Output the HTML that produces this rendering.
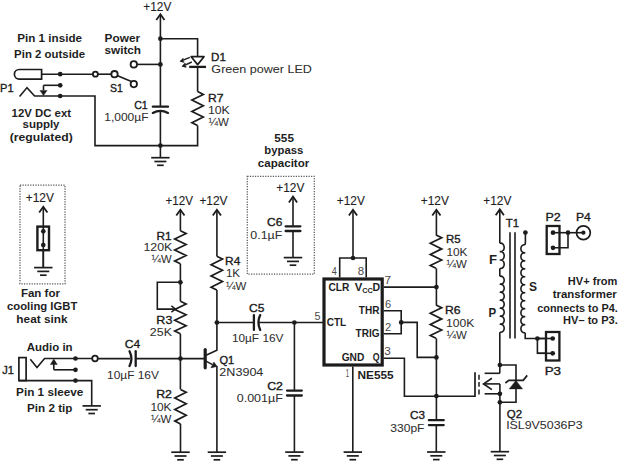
<!DOCTYPE html>
<html><head><meta charset="utf-8"><style>
html,body{margin:0;padding:0;background:#ffffff;}
body{width:620px;height:461px;overflow:hidden;}
svg{display:block;font-family:"Liberation Sans",sans-serif;font-kerning:none;}
</style></head><body>
<svg width="620" height="461" viewBox="0 0 620 461">
<rect width="620" height="461" fill="#ffffff"/>
<path d="M41.6,69.5 L19.2,69.5 A4.8,4.8 0 0 0 19.2,79.1 L41.6,79.1 Z" fill="none" stroke="#1c1c1c" stroke-width="1.7" stroke-linecap="butt" stroke-linejoin="miter"/>
<line x1="41.6" y1="74.2" x2="93" y2="74.2" stroke="#1c1c1c" stroke-width="1.6" stroke-linecap="butt"/>
<circle cx="60.2" cy="74.2" r="2.35" fill="#1c1c1c"/>
<circle cx="95.4" cy="74.2" r="2.5" fill="none" stroke="#1c1c1c" stroke-width="1.8"/>
<line x1="97.9" y1="74.2" x2="111.2" y2="74.2" stroke="#1c1c1c" stroke-width="1.6" stroke-linecap="butt"/>
<circle cx="114.5" cy="74.2" r="3.2" fill="none" stroke="#1c1c1c" stroke-width="1.8"/>
<line x1="117.6" y1="75.8" x2="131.4" y2="81.6" stroke="#1c1c1c" stroke-width="1.6" stroke-linecap="butt"/>
<circle cx="133.8" cy="84.1" r="3.2" fill="none" stroke="#1c1c1c" stroke-width="1.8"/>
<circle cx="133.8" cy="64.4" r="3.2" fill="none" stroke="#1c1c1c" stroke-width="1.8"/>
<line x1="137" y1="64.4" x2="160.4" y2="64.4" stroke="#1c1c1c" stroke-width="1.6" stroke-linecap="butt"/>
<circle cx="160.4" cy="64.4" r="2.35" fill="#1c1c1c"/>
<circle cx="60.2" cy="85.3" r="2.35" fill="#1c1c1c"/>
<line x1="43.5" y1="85.3" x2="60.2" y2="85.3" stroke="#1c1c1c" stroke-width="1.6" stroke-linecap="butt"/>
<line x1="43.5" y1="85.3" x2="43.5" y2="90.5" stroke="#1c1c1c" stroke-width="1.6" stroke-linecap="butt"/>
<polygon points="39.9,90.4 47.1,90.4 43.5,95.6" fill="#1c1c1c" stroke="#1c1c1c" stroke-width="0.4" stroke-linejoin="round"/>
<circle cx="60.2" cy="96" r="2.35" fill="#1c1c1c"/>
<polyline points="19.6,96.6 27,87.6 34.6,96 95,96 95,145.6 197.6,145.6 197.6,125.6" fill="none" stroke="#1c1c1c" stroke-width="1.6" stroke-linejoin="miter" stroke-linecap="butt"/>
<line x1="160.4" y1="14.8" x2="160.4" y2="106.7" stroke="#1c1c1c" stroke-width="1.6" stroke-linecap="butt"/>
<polyline points="156.3,20 160.4,14.2 164.5,20" fill="none" stroke="#1c1c1c" stroke-width="1.8" stroke-linejoin="miter" stroke-linecap="butt"/>
<line x1="160.4" y1="110.8" x2="160.4" y2="157.7" stroke="#1c1c1c" stroke-width="1.6" stroke-linecap="butt"/>
<circle cx="160.4" cy="38.7" r="2.35" fill="#1c1c1c"/>
<polyline points="160.4,38.7 197.6,38.7 197.6,56" fill="none" stroke="#1c1c1c" stroke-width="1.6" stroke-linejoin="miter" stroke-linecap="butt"/>
<line x1="152.8" y1="106.7" x2="168" y2="106.7" stroke="#1c1c1c" stroke-width="2.3" stroke-linecap="round"/>
<path d="M152.8,112.9 Q160.4,108.7 168,112.9" fill="none" stroke="#1c1c1c" stroke-width="2.3" stroke-linecap="round" stroke-linejoin="miter"/>
<circle cx="160.4" cy="145.6" r="2.35" fill="#1c1c1c"/>
<line x1="151.2" y1="157.7" x2="169.6" y2="157.7" stroke="#1c1c1c" stroke-width="1.7" stroke-linecap="butt"/>
<line x1="154.4" y1="161.5" x2="166.4" y2="161.5" stroke="#1c1c1c" stroke-width="1.7" stroke-linecap="butt"/>
<line x1="157.1" y1="165.3" x2="163.7" y2="165.3" stroke="#1c1c1c" stroke-width="1.7" stroke-linecap="butt"/>
<polygon points="191.2,56.7 204,56.7 197.6,64.6" fill="none" stroke="#1c1c1c" stroke-width="1.7" stroke-linejoin="round" stroke-linecap="butt"/>
<line x1="189.2" y1="66.9" x2="206" y2="66.9" stroke="#1c1c1c" stroke-width="2.3" stroke-linecap="butt"/>
<line x1="197.6" y1="66.9" x2="197.6" y2="91.6" stroke="#1c1c1c" stroke-width="1.6" stroke-linecap="butt"/>
<line x1="189.8" y1="57.4" x2="180.8" y2="61.2" stroke="#1c1c1c" stroke-width="1.4" stroke-linecap="butt"/>
<polyline points="183.4,58.4 180.8,61.2 184.2,62.2" fill="none" stroke="#1c1c1c" stroke-width="1.3" stroke-linejoin="miter" stroke-linecap="butt"/>
<line x1="191.8" y1="62" x2="182.8" y2="66.1" stroke="#1c1c1c" stroke-width="1.4" stroke-linecap="butt"/>
<polyline points="185.4,63.2 182.8,66.1 186.3,67" fill="none" stroke="#1c1c1c" stroke-width="1.3" stroke-linejoin="miter" stroke-linecap="butt"/>
<polyline points="197.6,91.6 203.3,94.43 191.9,100.1 203.3,105.77 191.9,111.43 203.3,117.1 191.9,122.77 197.6,125.6" fill="none" stroke="#1c1c1c" stroke-width="1.7" stroke-linejoin="miter" stroke-linecap="butt"/>
<text x="143.32" y="10.6" font-size="12.3" font-weight="normal" fill="#1e1e1e" textLength="28.03" lengthAdjust="spacingAndGlyphs" stroke="#1e1e1e" stroke-width="0.12">+12V</text>
<text x="17.22" y="42.3" font-size="11.4" font-weight="bold" fill="#1e1e1e" textLength="64.78" lengthAdjust="spacingAndGlyphs">Pin 1 inside</text>
<text x="14.14" y="57.6" font-size="11.4" font-weight="bold" fill="#1e1e1e" textLength="71.05" lengthAdjust="spacingAndGlyphs">Pin 2 outside</text>
<text x="104.61" y="41.9" font-size="11.4" font-weight="bold" fill="#1e1e1e" textLength="35.47" lengthAdjust="spacingAndGlyphs">Power</text>
<text x="104.49" y="54.1" font-size="11.4" font-weight="bold" fill="#1e1e1e" textLength="36.54" lengthAdjust="spacingAndGlyphs">switch</text>
<text x="0.09" y="91.6" font-size="11.6" font-weight="normal" fill="#1a1a1a" textLength="13.55" lengthAdjust="spacingAndGlyphs" stroke="#1a1a1a" stroke-width="0.36">P1</text>
<text x="109.92" y="91.6" font-size="11.6" font-weight="normal" fill="#1a1a1a" textLength="12.89" lengthAdjust="spacingAndGlyphs" stroke="#1a1a1a" stroke-width="0.36">S1</text>
<text x="211.05" y="60.8" font-size="11.6" font-weight="normal" fill="#1a1a1a" textLength="14.82" lengthAdjust="spacingAndGlyphs" stroke="#1a1a1a" stroke-width="0.36">D1</text>
<text x="211.37" y="73.3" font-size="11.6" font-weight="normal" fill="#2e2e2e" textLength="100.53" lengthAdjust="spacingAndGlyphs" stroke="#2e2e2e" stroke-width="0.05">Green power LED</text>
<text x="207.91" y="102" font-size="11.6" font-weight="normal" fill="#1a1a1a" textLength="15.5" lengthAdjust="spacingAndGlyphs" stroke="#1a1a1a" stroke-width="0.36">R7</text>
<text x="207.96" y="114.2" font-size="11.6" font-weight="normal" fill="#2e2e2e" textLength="21.87" lengthAdjust="spacingAndGlyphs" stroke="#2e2e2e" stroke-width="0.05">10K</text>
<text x="208.59" y="125.9" font-size="11.6" font-weight="normal" fill="#2e2e2e" textLength="20.35" lengthAdjust="spacingAndGlyphs" stroke="#2e2e2e" stroke-width="0.05">¼W</text>
<text x="134.16" y="108.5" font-size="11.6" font-weight="normal" fill="#1a1a1a" textLength="13.56" lengthAdjust="spacingAndGlyphs" stroke="#1a1a1a" stroke-width="0.36">C1</text>
<text x="104.29" y="120.6" font-size="11.6" font-weight="normal" fill="#2e2e2e" textLength="44.19" lengthAdjust="spacingAndGlyphs" stroke="#2e2e2e" stroke-width="0.05">1,000µF</text>
<text x="11.58" y="116.5" font-size="11.4" font-weight="bold" fill="#1e1e1e" textLength="59.46" lengthAdjust="spacingAndGlyphs">12V DC ext</text>
<text x="22.5" y="127.5" font-size="11.4" font-weight="bold" fill="#1e1e1e" textLength="36.96" lengthAdjust="spacingAndGlyphs">supply</text>
<text x="9.79" y="140.8" font-size="11.4" font-weight="bold" fill="#1e1e1e" textLength="62.91" lengthAdjust="spacingAndGlyphs">(regulated)</text>
<text x="274.34" y="141.5" font-size="11.4" font-weight="bold" fill="#1e1e1e" textLength="19.59" lengthAdjust="spacingAndGlyphs">555</text>
<text x="264.36" y="154" font-size="11.4" font-weight="bold" fill="#1e1e1e" textLength="38.91" lengthAdjust="spacingAndGlyphs">bypass</text>
<text x="257.85" y="166.5" font-size="11.4" font-weight="bold" fill="#1e1e1e" textLength="51.43" lengthAdjust="spacingAndGlyphs">capacitor</text>
<rect x="247.3" y="176.3" width="67" height="97.9" fill="none" stroke="#5a5a5a" stroke-width="1.25" stroke-dasharray="1.25,1.3"/>
<text x="276.32" y="192" font-size="12.3" font-weight="normal" fill="#1e1e1e" textLength="28.03" lengthAdjust="spacingAndGlyphs" stroke="#1e1e1e" stroke-width="0.12">+12V</text>
<line x1="293" y1="197.2" x2="293" y2="226.3" stroke="#1c1c1c" stroke-width="1.6" stroke-linecap="butt"/>
<polyline points="288.9,202.4 293,196.6 297.1,202.4" fill="none" stroke="#1c1c1c" stroke-width="1.8" stroke-linejoin="miter" stroke-linecap="butt"/>
<line x1="285.6" y1="226.3" x2="300.4" y2="226.3" stroke="#1c1c1c" stroke-width="2.3" stroke-linecap="round"/>
<line x1="285.6" y1="231" x2="300.4" y2="231" stroke="#1c1c1c" stroke-width="2.3" stroke-linecap="round"/>
<line x1="293" y1="231" x2="293" y2="257.6" stroke="#1c1c1c" stroke-width="1.6" stroke-linecap="butt"/>
<line x1="283.8" y1="257.6" x2="302.2" y2="257.6" stroke="#1c1c1c" stroke-width="1.7" stroke-linecap="butt"/>
<line x1="287" y1="261.4" x2="299" y2="261.4" stroke="#1c1c1c" stroke-width="1.7" stroke-linecap="butt"/>
<line x1="289.7" y1="265.2" x2="296.3" y2="265.2" stroke="#1c1c1c" stroke-width="1.7" stroke-linecap="butt"/>
<text x="267.1" y="226.4" font-size="11.6" font-weight="normal" fill="#1a1a1a" textLength="15.23" lengthAdjust="spacingAndGlyphs" stroke="#1a1a1a" stroke-width="0.36">C6</text>
<text x="250.32" y="239" font-size="11.6" font-weight="normal" fill="#2e2e2e" textLength="31.98" lengthAdjust="spacingAndGlyphs" stroke="#2e2e2e" stroke-width="0.05">0.1µF</text>
<rect x="20" y="185" width="45" height="98.8" fill="none" stroke="#5a5a5a" stroke-width="1.25" stroke-dasharray="1.25,1.3"/>
<text x="25.72" y="201.6" font-size="12.3" font-weight="normal" fill="#1e1e1e" textLength="28.13" lengthAdjust="spacingAndGlyphs" stroke="#1e1e1e" stroke-width="0.12">+12V</text>
<line x1="43.3" y1="207.4" x2="43.3" y2="267.6" stroke="#1c1c1c" stroke-width="1.6" stroke-linecap="butt"/>
<polyline points="39.2,212.6 43.3,206.8 47.4,212.6" fill="none" stroke="#1c1c1c" stroke-width="1.8" stroke-linejoin="miter" stroke-linecap="butt"/>
<rect x="37.4" y="226.6" width="11.6" height="23.6" fill="#ffffff" stroke="#1c1c1c" stroke-width="2.4"/>
<line x1="43.3" y1="226.6" x2="43.3" y2="267.6" stroke="#1c1c1c" stroke-width="1.6" stroke-linecap="butt"/>
<circle cx="43.3" cy="231.3" r="2.35" fill="#1c1c1c"/>
<circle cx="43.3" cy="245" r="2.35" fill="#1c1c1c"/>
<line x1="34.1" y1="267.6" x2="52.5" y2="267.6" stroke="#1c1c1c" stroke-width="1.7" stroke-linecap="butt"/>
<line x1="37.3" y1="271.4" x2="49.3" y2="271.4" stroke="#1c1c1c" stroke-width="1.7" stroke-linecap="butt"/>
<line x1="40" y1="275.2" x2="46.6" y2="275.2" stroke="#1c1c1c" stroke-width="1.7" stroke-linecap="butt"/>
<text x="20.93" y="297.4" font-size="11.4" font-weight="bold" fill="#1e1e1e" textLength="39.05" lengthAdjust="spacingAndGlyphs">Fan for</text>
<text x="7.06" y="310.3" font-size="11.4" font-weight="bold" fill="#1e1e1e" textLength="70.26" lengthAdjust="spacingAndGlyphs">cooling IGBT</text>
<text x="16.38" y="322.5" font-size="11.4" font-weight="bold" fill="#1e1e1e" textLength="51.11" lengthAdjust="spacingAndGlyphs">heat sink</text>
<text x="26.81" y="351.2" font-size="11.4" font-weight="bold" fill="#1e1e1e" textLength="45.8" lengthAdjust="spacingAndGlyphs">Audio in</text>
<rect x="18.9" y="357.6" width="7.2" height="23" fill="none" stroke="#1c1c1c" stroke-width="1.7"/>
<polyline points="30.3,359.2 37,367.6 44.6,358.5 92.2,358.5" fill="none" stroke="#1c1c1c" stroke-width="1.6" stroke-linejoin="miter" stroke-linecap="butt"/>
<circle cx="75.5" cy="358.5" r="2.35" fill="#1c1c1c"/>
<circle cx="95" cy="358.5" r="2.8" fill="none" stroke="#1c1c1c" stroke-width="1.8"/>
<line x1="53.8" y1="369.8" x2="53.8" y2="364" stroke="#1c1c1c" stroke-width="1.6" stroke-linecap="butt"/>
<polygon points="50.3,364.6 57.3,364.6 53.8,358.9" fill="#1c1c1c" stroke="#1c1c1c" stroke-width="0.4" stroke-linejoin="round"/>
<line x1="53.8" y1="369.8" x2="75.5" y2="369.8" stroke="#1c1c1c" stroke-width="1.6" stroke-linecap="butt"/>
<circle cx="75.5" cy="369.8" r="2.35" fill="#1c1c1c"/>
<polyline points="18.9,380.6 91.7,380.6 91.7,405.9" fill="none" stroke="#1c1c1c" stroke-width="1.6" stroke-linejoin="miter" stroke-linecap="butt"/>
<circle cx="75.5" cy="380.6" r="2.35" fill="#1c1c1c"/>
<line x1="82.5" y1="405.9" x2="100.9" y2="405.9" stroke="#1c1c1c" stroke-width="1.7" stroke-linecap="butt"/>
<line x1="85.7" y1="409.7" x2="97.7" y2="409.7" stroke="#1c1c1c" stroke-width="1.7" stroke-linecap="butt"/>
<line x1="88.4" y1="413.5" x2="95" y2="413.5" stroke="#1c1c1c" stroke-width="1.7" stroke-linecap="butt"/>
<text x="2.33" y="374.1" font-size="11.6" font-weight="normal" fill="#1a1a1a" textLength="11.71" lengthAdjust="spacingAndGlyphs" stroke="#1a1a1a" stroke-width="0.36">J1</text>
<text x="16.12" y="396.2" font-size="11.4" font-weight="bold" fill="#1e1e1e" textLength="67.19" lengthAdjust="spacingAndGlyphs">Pin 1 sleeve</text>
<text x="27.12" y="411.8" font-size="11.4" font-weight="bold" fill="#1e1e1e" textLength="45.26" lengthAdjust="spacingAndGlyphs">Pin 2 tip</text>
<line x1="97.8" y1="358.6" x2="130" y2="358.6" stroke="#1c1c1c" stroke-width="1.6" stroke-linecap="butt"/>
<path d="M129.5,351.2 Q133.3,358.6 129.5,366" fill="none" stroke="#1c1c1c" stroke-width="2.3" stroke-linecap="round" stroke-linejoin="miter"/>
<line x1="135.7" y1="351.2" x2="135.7" y2="366" stroke="#1c1c1c" stroke-width="2.3" stroke-linecap="round"/>
<line x1="135.7" y1="358.6" x2="205" y2="358.6" stroke="#1c1c1c" stroke-width="1.6" stroke-linecap="butt"/>
<circle cx="180.5" cy="358.6" r="2.35" fill="#1c1c1c"/>
<text x="124.89" y="348.2" font-size="11.6" font-weight="normal" fill="#1a1a1a" textLength="15.36" lengthAdjust="spacingAndGlyphs" stroke="#1a1a1a" stroke-width="0.36">C4</text>
<text x="107.09" y="378.5" font-size="11.6" font-weight="normal" fill="#2e2e2e" textLength="51.86" lengthAdjust="spacingAndGlyphs" stroke="#2e2e2e" stroke-width="0.05">10µF 16V</text>
<text x="165.53" y="205.1" font-size="12.3" font-weight="normal" fill="#1e1e1e" textLength="27.52" lengthAdjust="spacingAndGlyphs" stroke="#1e1e1e" stroke-width="0.12">+12V</text>
<line x1="180.4" y1="210.3" x2="180.4" y2="230.8" stroke="#1c1c1c" stroke-width="1.6" stroke-linecap="butt"/>
<polyline points="176.3,215.5 180.4,209.7 184.5,215.5" fill="none" stroke="#1c1c1c" stroke-width="1.8" stroke-linejoin="miter" stroke-linecap="butt"/>
<polyline points="180.4,230.8 186.1,233.55 174.7,239.05 186.1,244.55 174.7,250.05 186.1,255.55 174.7,261.05 180.4,263.8" fill="none" stroke="#1c1c1c" stroke-width="1.7" stroke-linejoin="miter" stroke-linecap="butt"/>
<line x1="180.4" y1="263.8" x2="180.4" y2="301.3" stroke="#1c1c1c" stroke-width="1.6" stroke-linecap="butt"/>
<circle cx="180.4" cy="282.3" r="2.35" fill="#1c1c1c"/>
<polyline points="180.4,282.3 157.3,282.3 157.3,309.1 175,309.1" fill="none" stroke="#1c1c1c" stroke-width="1.6" stroke-linejoin="miter" stroke-linecap="butt"/>
<polyline points="171.4,305.9 175.3,309 171.4,312.1" fill="none" stroke="#1c1c1c" stroke-width="1.5" stroke-linejoin="miter" stroke-linecap="butt"/>
<polyline points="180.4,301.3 186.1,304.01 174.7,309.43 186.1,314.84 174.7,320.26 186.1,325.68 174.7,331.09 180.4,333.8" fill="none" stroke="#1c1c1c" stroke-width="1.7" stroke-linejoin="miter" stroke-linecap="butt"/>
<line x1="180.4" y1="333.8" x2="180.4" y2="389.4" stroke="#1c1c1c" stroke-width="1.6" stroke-linecap="butt"/>
<polyline points="180.5,389.4 186.2,392.28 174.8,398.05 186.2,403.82 174.8,409.58 186.2,415.35 174.8,421.12 180.5,424" fill="none" stroke="#1c1c1c" stroke-width="1.7" stroke-linejoin="miter" stroke-linecap="butt"/>
<line x1="180.5" y1="424" x2="180.5" y2="452.2" stroke="#1c1c1c" stroke-width="1.6" stroke-linecap="butt"/>
<line x1="171.3" y1="452.2" x2="189.7" y2="452.2" stroke="#1c1c1c" stroke-width="1.7" stroke-linecap="butt"/>
<line x1="174.5" y1="456" x2="186.5" y2="456" stroke="#1c1c1c" stroke-width="1.7" stroke-linecap="butt"/>
<line x1="177.2" y1="459.8" x2="183.8" y2="459.8" stroke="#1c1c1c" stroke-width="1.7" stroke-linecap="butt"/>
<text x="156.43" y="239.8" font-size="11.6" font-weight="normal" fill="#1a1a1a" textLength="15.04" lengthAdjust="spacingAndGlyphs" stroke="#1a1a1a" stroke-width="0.36">R1</text>
<text x="143.46" y="251.4" font-size="11.6" font-weight="normal" fill="#2e2e2e" textLength="28.88" lengthAdjust="spacingAndGlyphs" stroke="#2e2e2e" stroke-width="0.05">120K</text>
<text x="151.59" y="263.1" font-size="11.6" font-weight="normal" fill="#2e2e2e" textLength="20.05" lengthAdjust="spacingAndGlyphs" stroke="#2e2e2e" stroke-width="0.05">¼W</text>
<text x="156.37" y="323.8" font-size="11.6" font-weight="normal" fill="#1a1a1a" textLength="15.97" lengthAdjust="spacingAndGlyphs" stroke="#1a1a1a" stroke-width="0.36">R3</text>
<text x="149.88" y="336" font-size="11.6" font-weight="normal" fill="#2e2e2e" textLength="22.06" lengthAdjust="spacingAndGlyphs" stroke="#2e2e2e" stroke-width="0.05">25K</text>
<text x="156.18" y="397.9" font-size="11.6" font-weight="normal" fill="#1a1a1a" textLength="15.84" lengthAdjust="spacingAndGlyphs" stroke="#1a1a1a" stroke-width="0.36">R2</text>
<text x="150.4" y="410.6" font-size="11.6" font-weight="normal" fill="#2e2e2e" textLength="21.14" lengthAdjust="spacingAndGlyphs" stroke="#2e2e2e" stroke-width="0.05">10K</text>
<text x="150.99" y="423.2" font-size="11.6" font-weight="normal" fill="#2e2e2e" textLength="20.45" lengthAdjust="spacingAndGlyphs" stroke="#2e2e2e" stroke-width="0.05">¼W</text>
<text x="199.42" y="205.1" font-size="12.3" font-weight="normal" fill="#1e1e1e" textLength="28.13" lengthAdjust="spacingAndGlyphs" stroke="#1e1e1e" stroke-width="0.12">+12V</text>
<line x1="216.9" y1="210.3" x2="216.9" y2="256.3" stroke="#1c1c1c" stroke-width="1.6" stroke-linecap="butt"/>
<polyline points="212.8,215.5 216.9,209.7 221,215.5" fill="none" stroke="#1c1c1c" stroke-width="1.8" stroke-linejoin="miter" stroke-linecap="butt"/>
<polyline points="216.8,256.3 222.5,259.11 211.1,264.73 222.5,270.34 211.1,275.96 222.5,281.58 211.1,287.19 216.8,290" fill="none" stroke="#1c1c1c" stroke-width="1.7" stroke-linejoin="miter" stroke-linecap="butt"/>
<polyline points="216.9,290 216.9,350.2 205.5,355.4" fill="none" stroke="#1c1c1c" stroke-width="1.6" stroke-linejoin="miter" stroke-linecap="butt"/>
<circle cx="216.9" cy="322.5" r="2.35" fill="#1c1c1c"/>
<line x1="205.2" y1="349.6" x2="205.2" y2="367.8" stroke="#1c1c1c" stroke-width="3.2" stroke-linecap="round"/>
<line x1="205.5" y1="360.9" x2="212.5" y2="364.6" stroke="#1c1c1c" stroke-width="1.6" stroke-linecap="butt"/>
<polygon points="210.8,367.9 213.9,361.9 217.2,366.4" fill="#1c1c1c" stroke="#1c1c1c" stroke-width="0.4" stroke-linejoin="round"/>
<line x1="216.9" y1="366" x2="216.9" y2="452.2" stroke="#1c1c1c" stroke-width="1.6" stroke-linecap="butt"/>
<line x1="207.7" y1="452.2" x2="226.1" y2="452.2" stroke="#1c1c1c" stroke-width="1.7" stroke-linecap="butt"/>
<line x1="210.9" y1="456" x2="222.9" y2="456" stroke="#1c1c1c" stroke-width="1.7" stroke-linecap="butt"/>
<line x1="213.6" y1="459.8" x2="220.2" y2="459.8" stroke="#1c1c1c" stroke-width="1.7" stroke-linecap="butt"/>
<text x="225.12" y="264.8" font-size="11.6" font-weight="normal" fill="#1a1a1a" textLength="15.23" lengthAdjust="spacingAndGlyphs" stroke="#1a1a1a" stroke-width="0.36">R4</text>
<text x="225.91" y="277" font-size="11.6" font-weight="normal" fill="#2e2e2e" textLength="14.22" lengthAdjust="spacingAndGlyphs" stroke="#2e2e2e" stroke-width="0.05">1K</text>
<text x="225.99" y="289.6" font-size="11.6" font-weight="normal" fill="#2e2e2e" textLength="20.35" lengthAdjust="spacingAndGlyphs" stroke="#2e2e2e" stroke-width="0.05">¼W</text>
<text x="219.48" y="363.5" font-size="11.6" font-weight="normal" fill="#1a1a1a" textLength="14.76" lengthAdjust="spacingAndGlyphs" stroke="#1a1a1a" stroke-width="0.36">Q1</text>
<text x="219.37" y="375.9" font-size="11.6" font-weight="normal" fill="#2e2e2e" textLength="44" lengthAdjust="spacingAndGlyphs" stroke="#2e2e2e" stroke-width="0.05">2N3904</text>
<line x1="216.9" y1="322.5" x2="253.6" y2="322.5" stroke="#1c1c1c" stroke-width="1.6" stroke-linecap="butt"/>
<path d="M260.2,315.1 Q256.6,322.5 260.2,329.9" fill="none" stroke="#1c1c1c" stroke-width="2.3" stroke-linecap="round" stroke-linejoin="miter"/>
<line x1="253.9" y1="315.1" x2="253.9" y2="329.9" stroke="#1c1c1c" stroke-width="2.3" stroke-linecap="round"/>
<line x1="258.6" y1="322.5" x2="324" y2="322.5" stroke="#1c1c1c" stroke-width="1.6" stroke-linecap="butt"/>
<circle cx="294.4" cy="322.5" r="2.35" fill="#1c1c1c"/>
<line x1="294.4" y1="322.5" x2="294.4" y2="390.6" stroke="#1c1c1c" stroke-width="1.6" stroke-linecap="butt"/>
<line x1="287" y1="390.6" x2="301.8" y2="390.6" stroke="#1c1c1c" stroke-width="2.3" stroke-linecap="round"/>
<line x1="287" y1="395.5" x2="301.8" y2="395.5" stroke="#1c1c1c" stroke-width="2.3" stroke-linecap="round"/>
<line x1="294.4" y1="395.5" x2="294.4" y2="452.1" stroke="#1c1c1c" stroke-width="1.6" stroke-linecap="butt"/>
<line x1="285.2" y1="452.1" x2="303.6" y2="452.1" stroke="#1c1c1c" stroke-width="1.7" stroke-linecap="butt"/>
<line x1="288.4" y1="455.9" x2="300.4" y2="455.9" stroke="#1c1c1c" stroke-width="1.7" stroke-linecap="butt"/>
<line x1="291.1" y1="459.7" x2="297.7" y2="459.7" stroke="#1c1c1c" stroke-width="1.7" stroke-linecap="butt"/>
<text x="248.99" y="311.5" font-size="11.6" font-weight="normal" fill="#1a1a1a" textLength="15.31" lengthAdjust="spacingAndGlyphs" stroke="#1a1a1a" stroke-width="0.36">C5</text>
<text x="231.9" y="342" font-size="11.6" font-weight="normal" fill="#2e2e2e" textLength="51.55" lengthAdjust="spacingAndGlyphs" stroke="#2e2e2e" stroke-width="0.05">10µF 16V</text>
<text x="267.17" y="389.7" font-size="11.6" font-weight="normal" fill="#1a1a1a" textLength="15.74" lengthAdjust="spacingAndGlyphs" stroke="#1a1a1a" stroke-width="0.36">C2</text>
<text x="236.81" y="401.8" font-size="11.6" font-weight="normal" fill="#2e2e2e" textLength="45.99" lengthAdjust="spacingAndGlyphs" stroke="#2e2e2e" stroke-width="0.05">0.001µF</text>
<rect x="324" y="279" width="58.2" height="86" fill="none" stroke="#1c1c1c" stroke-width="3.2"/>
<text x="336.82" y="204.9" font-size="12.3" font-weight="normal" fill="#1e1e1e" textLength="28.03" lengthAdjust="spacingAndGlyphs" stroke="#1e1e1e" stroke-width="0.12">+12V</text>
<line x1="353" y1="210.3" x2="353" y2="258" stroke="#1c1c1c" stroke-width="1.6" stroke-linecap="butt"/>
<polyline points="348.9,215.5 353,209.7 357.1,215.5" fill="none" stroke="#1c1c1c" stroke-width="1.8" stroke-linejoin="miter" stroke-linecap="butt"/>
<circle cx="353" cy="258" r="2.35" fill="#1c1c1c"/>
<polyline points="339.7,277.5 339.7,258 366.2,258 366.2,277.5" fill="none" stroke="#1c1c1c" stroke-width="1.6" stroke-linejoin="miter" stroke-linecap="butt"/>
<text x="331.79" y="274.8" font-size="10.2" font-weight="normal" fill="#4a4a4a" textLength="5.08" lengthAdjust="spacingAndGlyphs">4</text>
<text x="357.7" y="274.8" font-size="10.2" font-weight="normal" fill="#4a4a4a" textLength="6.4" lengthAdjust="spacingAndGlyphs">8</text>
<text x="328.38" y="290.6" font-size="10.6" font-weight="bold" fill="#1e1e1e" textLength="20.93" lengthAdjust="spacingAndGlyphs">CLR</text>
<text x="354.72" y="290.6" font-size="10.6" font-weight="bold" fill="#1e1e1e" textLength="7.55" lengthAdjust="spacingAndGlyphs">V</text>
<text x="362.3" y="292.6" font-size="7.6" font-weight="bold" fill="#1e1e1e" textLength="10.6" lengthAdjust="spacingAndGlyphs">CC</text>
<text x="372.49" y="290.6" font-size="10.6" font-weight="bold" fill="#1e1e1e" textLength="7.65" lengthAdjust="spacingAndGlyphs">D</text>
<text x="384.59" y="284.4" font-size="10.2" font-weight="normal" fill="#4a4a4a" textLength="6.61" lengthAdjust="spacingAndGlyphs">7</text>
<line x1="383.7" y1="287.1" x2="436.4" y2="287.1" stroke="#1c1c1c" stroke-width="1.6" stroke-linecap="butt"/>
<text x="358.79" y="313.7" font-size="10.6" font-weight="bold" fill="#1e1e1e" textLength="20.62" lengthAdjust="spacingAndGlyphs">THR</text>
<text x="385.14" y="307.5" font-size="10.2" font-weight="normal" fill="#4a4a4a" textLength="6.15" lengthAdjust="spacingAndGlyphs">6</text>
<polyline points="383.7,310.7 401.2,310.7 401.2,333.7 383.7,333.7" fill="none" stroke="#1c1c1c" stroke-width="1.6" stroke-linejoin="miter" stroke-linecap="butt"/>
<circle cx="401.2" cy="322.4" r="2.35" fill="#1c1c1c"/>
<polyline points="401.2,322.4 417.2,322.4 417.2,357.4 436.4,357.4" fill="none" stroke="#1c1c1c" stroke-width="1.6" stroke-linejoin="miter" stroke-linecap="butt"/>
<text x="385.14" y="331.3" font-size="10.2" font-weight="normal" fill="#4a4a4a" textLength="6.23" lengthAdjust="spacingAndGlyphs">2</text>
<text x="355.59" y="337.3" font-size="10.6" font-weight="bold" fill="#1e1e1e" textLength="23.93" lengthAdjust="spacingAndGlyphs">TRIG</text>
<text x="326.79" y="326.4" font-size="10.6" font-weight="bold" fill="#1e1e1e" textLength="19.42" lengthAdjust="spacingAndGlyphs">CTL</text>
<text x="314.57" y="320.2" font-size="10.2" font-weight="normal" fill="#4a4a4a" textLength="5.98" lengthAdjust="spacingAndGlyphs">5</text>
<text x="341.68" y="361.1" font-size="10.6" font-weight="bold" fill="#1e1e1e" textLength="22.65" lengthAdjust="spacingAndGlyphs">GND</text>
<text x="372.74" y="361.1" font-size="10.6" font-weight="bold" fill="#1e1e1e" textLength="6.83" lengthAdjust="spacingAndGlyphs">Q</text>
<text x="384.35" y="354.8" font-size="10.2" font-weight="normal" fill="#4a4a4a" textLength="6.57" lengthAdjust="spacingAndGlyphs">3</text>
<polyline points="383.7,358.2 404.4,358.2 404.4,396.2 475,396.2" fill="none" stroke="#1c1c1c" stroke-width="1.6" stroke-linejoin="miter" stroke-linecap="butt"/>
<text x="345.64" y="377.2" font-size="10.2" font-weight="normal" fill="#4a4a4a" textLength="3.35" lengthAdjust="spacingAndGlyphs">1</text>
<line x1="352.8" y1="366.5" x2="352.8" y2="452.1" stroke="#1c1c1c" stroke-width="1.6" stroke-linecap="butt"/>
<line x1="343.6" y1="452.1" x2="362" y2="452.1" stroke="#1c1c1c" stroke-width="1.7" stroke-linecap="butt"/>
<line x1="346.8" y1="455.9" x2="358.8" y2="455.9" stroke="#1c1c1c" stroke-width="1.7" stroke-linecap="butt"/>
<line x1="349.5" y1="459.7" x2="356.1" y2="459.7" stroke="#1c1c1c" stroke-width="1.7" stroke-linecap="butt"/>
<text x="357.51" y="378.8" font-size="11.2" font-weight="bold" fill="#1e1e1e" textLength="36.22" lengthAdjust="spacingAndGlyphs">NE555</text>
<text x="420.72" y="204.9" font-size="12.3" font-weight="normal" fill="#1e1e1e" textLength="28.13" lengthAdjust="spacingAndGlyphs" stroke="#1e1e1e" stroke-width="0.12">+12V</text>
<line x1="436.4" y1="210.3" x2="436.4" y2="235" stroke="#1c1c1c" stroke-width="1.6" stroke-linecap="butt"/>
<polyline points="432.3,215.5 436.4,209.7 440.5,215.5" fill="none" stroke="#1c1c1c" stroke-width="1.8" stroke-linejoin="miter" stroke-linecap="butt"/>
<polyline points="436,235 441.7,237.78 430.3,243.33 441.7,248.88 430.3,254.43 441.7,259.98 430.3,265.53 436,268.3" fill="none" stroke="#1c1c1c" stroke-width="1.7" stroke-linejoin="miter" stroke-linecap="butt"/>
<line x1="436.4" y1="268.3" x2="436.4" y2="305" stroke="#1c1c1c" stroke-width="1.6" stroke-linecap="butt"/>
<circle cx="436.4" cy="287.1" r="2.35" fill="#1c1c1c"/>
<polyline points="436,305 441.7,307.77 430.3,313.32 441.7,318.88 430.3,324.43 441.7,329.98 430.3,335.53 436,338.3" fill="none" stroke="#1c1c1c" stroke-width="1.7" stroke-linejoin="miter" stroke-linecap="butt"/>
<line x1="436.4" y1="338.3" x2="436.4" y2="420.2" stroke="#1c1c1c" stroke-width="1.6" stroke-linecap="butt"/>
<circle cx="436.4" cy="357.4" r="2.35" fill="#1c1c1c"/>
<circle cx="436.4" cy="396.1" r="2.35" fill="#1c1c1c"/>
<line x1="428.9" y1="420.2" x2="443.7" y2="420.2" stroke="#1c1c1c" stroke-width="2.3" stroke-linecap="round"/>
<line x1="428.9" y1="425.1" x2="443.7" y2="425.1" stroke="#1c1c1c" stroke-width="2.3" stroke-linecap="round"/>
<line x1="436.3" y1="425.1" x2="436.3" y2="452" stroke="#1c1c1c" stroke-width="1.6" stroke-linecap="butt"/>
<line x1="427.1" y1="452" x2="445.5" y2="452" stroke="#1c1c1c" stroke-width="1.7" stroke-linecap="butt"/>
<line x1="430.3" y1="455.8" x2="442.3" y2="455.8" stroke="#1c1c1c" stroke-width="1.7" stroke-linecap="butt"/>
<line x1="433" y1="459.6" x2="439.6" y2="459.6" stroke="#1c1c1c" stroke-width="1.7" stroke-linecap="butt"/>
<text x="445.96" y="243.4" font-size="11.6" font-weight="normal" fill="#1a1a1a" textLength="14.62" lengthAdjust="spacingAndGlyphs" stroke="#1a1a1a" stroke-width="0.36">R5</text>
<text x="446.4" y="255.7" font-size="11.6" font-weight="normal" fill="#2e2e2e" textLength="21.03" lengthAdjust="spacingAndGlyphs" stroke="#2e2e2e" stroke-width="0.05">10K</text>
<text x="446.59" y="268" font-size="11.6" font-weight="normal" fill="#2e2e2e" textLength="20.35" lengthAdjust="spacingAndGlyphs" stroke="#2e2e2e" stroke-width="0.05">¼W</text>
<text x="445.1" y="314.3" font-size="11.6" font-weight="normal" fill="#1a1a1a" textLength="15.53" lengthAdjust="spacingAndGlyphs" stroke="#1a1a1a" stroke-width="0.36">R6</text>
<text x="445.97" y="326.6" font-size="11.6" font-weight="normal" fill="#2e2e2e" textLength="28.36" lengthAdjust="spacingAndGlyphs" stroke="#2e2e2e" stroke-width="0.05">100K</text>
<text x="446.59" y="338.9" font-size="11.6" font-weight="normal" fill="#2e2e2e" textLength="20.35" lengthAdjust="spacingAndGlyphs" stroke="#2e2e2e" stroke-width="0.05">¼W</text>
<text x="410.11" y="419.3" font-size="11.6" font-weight="normal" fill="#1a1a1a" textLength="14.9" lengthAdjust="spacingAndGlyphs" stroke="#1a1a1a" stroke-width="0.36">C3</text>
<text x="390.34" y="431.8" font-size="11.6" font-weight="normal" fill="#2e2e2e" textLength="34.14" lengthAdjust="spacingAndGlyphs" stroke="#2e2e2e" stroke-width="0.05">330pF</text>
<text x="483.22" y="204.9" font-size="12.3" font-weight="normal" fill="#1e1e1e" textLength="28.13" lengthAdjust="spacingAndGlyphs" stroke="#1e1e1e" stroke-width="0.12">+12V</text>
<line x1="499.8" y1="210" x2="499.8" y2="243.2" stroke="#1c1c1c" stroke-width="1.6" stroke-linecap="butt"/>
<polyline points="495.7,215.2 499.8,209.4 503.9,215.2" fill="none" stroke="#1c1c1c" stroke-width="1.8" stroke-linejoin="miter" stroke-linecap="butt"/>
<path d="M499.8,243.2 C505.67,242.3 505.67,252.5 499.8,251.6 C505.67,250.7 505.67,260.9 499.8,260 C505.67,259.1 505.67,269.3 499.8,268.4" fill="none" stroke="#1c1c1c" stroke-width="1.6" stroke-linecap="butt" stroke-linejoin="miter"/>
<line x1="499.8" y1="268.4" x2="499.8" y2="276.2" stroke="#1c1c1c" stroke-width="1.6" stroke-linecap="butt"/>
<path d="M499.8,276.2 C505.67,275.3 505.67,285.1 499.8,284.2 C505.67,283.3 505.67,293.1 499.8,292.2 C505.67,291.3 505.67,301.1 499.8,300.2 C505.67,299.3 505.67,309.1 499.8,308.2 C505.67,307.3 505.67,317.1 499.8,316.2 C505.67,315.3 505.67,325.1 499.8,324.2 C505.67,323.3 505.67,333.1 499.8,332.2" fill="none" stroke="#1c1c1c" stroke-width="1.6" stroke-linecap="butt" stroke-linejoin="miter"/>
<line x1="499.8" y1="332.2" x2="499.8" y2="373.3" stroke="#1c1c1c" stroke-width="1.6" stroke-linecap="butt"/>
<line x1="510" y1="232.3" x2="510" y2="338.4" stroke="#1c1c1c" stroke-width="1.6" stroke-linecap="butt"/>
<line x1="515" y1="232.3" x2="515" y2="338.4" stroke="#1c1c1c" stroke-width="1.6" stroke-linecap="butt"/>
<circle cx="525.4" cy="232.5" r="2.35" fill="#1c1c1c"/>
<polyline points="525.4,232.5 525.4,241.5 525.2,244.8" fill="none" stroke="#1c1c1c" stroke-width="1.6" stroke-linejoin="miter" stroke-linecap="butt"/>
<path d="M525.2,244.8 C519.47,243.9 519.47,253.69 525.2,252.79 C519.47,251.89 519.47,261.68 525.2,260.78 C519.47,259.88 519.47,269.67 525.2,268.77 C519.47,267.87 519.47,277.66 525.2,276.76 C519.47,275.86 519.47,285.65 525.2,284.75 C519.47,283.85 519.47,293.65 525.2,292.75 C519.47,291.85 519.47,301.64 525.2,300.74 C519.47,299.84 519.47,309.63 525.2,308.73 C519.47,307.83 519.47,317.62 525.2,316.72 C519.47,315.82 519.47,325.61 525.2,324.71 C519.47,323.81 519.47,333.6 525.2,332.7" fill="none" stroke="#1c1c1c" stroke-width="1.6" stroke-linecap="butt" stroke-linejoin="miter"/>
<polyline points="525.2,332.7 525.2,338.5 552.7,338.5" fill="none" stroke="#1c1c1c" stroke-width="1.6" stroke-linejoin="miter" stroke-linecap="butt"/>
<circle cx="537.4" cy="338.5" r="2.35" fill="#1c1c1c"/>
<polyline points="537.4,338.5 537.4,353.3 552.7,353.3" fill="none" stroke="#1c1c1c" stroke-width="1.6" stroke-linejoin="miter" stroke-linecap="butt"/>
<text x="505.74" y="227" font-size="11.6" font-weight="normal" fill="#1a1a1a" textLength="13.31" lengthAdjust="spacingAndGlyphs" stroke="#1a1a1a" stroke-width="0.36">T1</text>
<text x="488.92" y="264.3" font-size="12" font-weight="bold" fill="#1e1e1e" textLength="8.07" lengthAdjust="spacingAndGlyphs">F</text>
<text x="529.05" y="291" font-size="12" font-weight="bold" fill="#1e1e1e" textLength="8.02" lengthAdjust="spacingAndGlyphs">S</text>
<text x="488.53" y="317.1" font-size="12" font-weight="bold" fill="#1e1e1e" textLength="7.66" lengthAdjust="spacingAndGlyphs">P</text>
<rect x="546.7" y="226" width="12.8" height="28" fill="#ffffff" stroke="#1c1c1c" stroke-width="2.3"/>
<circle cx="553" cy="232.7" r="2.35" fill="#1c1c1c"/>
<circle cx="553" cy="247.8" r="2.35" fill="#1c1c1c"/>
<line x1="553" y1="232.7" x2="583.4" y2="232.7" stroke="#1c1c1c" stroke-width="1.6" stroke-linecap="butt"/>
<circle cx="568" cy="232.7" r="2.35" fill="#1c1c1c"/>
<polyline points="568,232.7 568,247.8 553,247.8" fill="none" stroke="#1c1c1c" stroke-width="1.6" stroke-linejoin="miter" stroke-linecap="butt"/>
<circle cx="583.4" cy="232.7" r="6.9" fill="none" stroke="#1c1c1c" stroke-width="1.7"/>
<circle cx="583.4" cy="232.7" r="2.1" fill="#1c1c1c"/>
<text x="545.48" y="221.3" font-size="11.6" font-weight="normal" fill="#1a1a1a" textLength="15.25" lengthAdjust="spacingAndGlyphs" stroke="#1a1a1a" stroke-width="0.36">P2</text>
<text x="575.9" y="221.3" font-size="11.6" font-weight="normal" fill="#1a1a1a" textLength="14.85" lengthAdjust="spacingAndGlyphs" stroke="#1a1a1a" stroke-width="0.36">P4</text>
<rect x="546" y="332" width="13.4" height="28.5" fill="#ffffff" stroke="#1c1c1c" stroke-width="2.3"/>
<circle cx="552.7" cy="338.5" r="2.35" fill="#1c1c1c"/>
<circle cx="552.7" cy="353.3" r="2.35" fill="#1c1c1c"/>
<line x1="537.4" y1="338.5" x2="552.7" y2="338.5" stroke="#1c1c1c" stroke-width="1.6" stroke-linecap="butt"/>
<line x1="537.4" y1="353.3" x2="552.7" y2="353.3" stroke="#1c1c1c" stroke-width="1.6" stroke-linecap="butt"/>
<text x="544.7" y="375.2" font-size="11.6" font-weight="normal" fill="#1a1a1a" textLength="16.39" lengthAdjust="spacingAndGlyphs" stroke="#1a1a1a" stroke-width="0.36">P3</text>
<text x="567.86" y="285.4" font-size="11.4" font-weight="bold" fill="#1e1e1e" textLength="49.42" lengthAdjust="spacingAndGlyphs">HV+ from</text>
<text x="552.66" y="298.4" font-size="11.4" font-weight="bold" fill="#1e1e1e" textLength="64.11" lengthAdjust="spacingAndGlyphs">transformer</text>
<text x="537.27" y="311.5" font-size="11.4" font-weight="bold" fill="#1e1e1e" textLength="80.48" lengthAdjust="spacingAndGlyphs">connects to P4.</text>
<text x="563.06" y="324.1" font-size="11.4" font-weight="bold" fill="#1e1e1e" textLength="54.7" lengthAdjust="spacingAndGlyphs">HV– to P3.</text>
<circle cx="499.9" cy="365" r="2.35" fill="#1c1c1c"/>
<polyline points="499.9,365 516,365 516,402.3 499.9,402.3" fill="none" stroke="#1c1c1c" stroke-width="1.6" stroke-linejoin="miter" stroke-linecap="butt"/>
<polygon points="509.2,388.9 522.6,388.9 515.9,380.4" fill="#1c1c1c" stroke="#1c1c1c" stroke-width="0.4" stroke-linejoin="round"/>
<polyline points="505.4,383 508.8,380.4 523.2,380.4 527.2,375.4" fill="none" stroke="#1c1c1c" stroke-width="1.7" stroke-linejoin="miter" stroke-linecap="butt"/>
<line x1="484.6" y1="373.3" x2="499.9" y2="373.3" stroke="#1c1c1c" stroke-width="1.6" stroke-linecap="butt"/>
<line x1="483.8" y1="383.9" x2="499.9" y2="383.9" stroke="#1c1c1c" stroke-width="1.6" stroke-linecap="butt"/>
<polyline points="491.9,378.2 483.6,383.9 491.9,389.6" fill="none" stroke="#1c1c1c" stroke-width="1.7" stroke-linejoin="miter" stroke-linecap="butt"/>
<line x1="499.9" y1="383.9" x2="499.9" y2="451.7" stroke="#1c1c1c" stroke-width="1.6" stroke-linecap="butt"/>
<line x1="484.6" y1="393.8" x2="499.9" y2="393.8" stroke="#1c1c1c" stroke-width="1.6" stroke-linecap="butt"/>
<circle cx="499.9" cy="393.8" r="2.35" fill="#1c1c1c"/>
<circle cx="499.9" cy="402.3" r="2.35" fill="#1c1c1c"/>
<line x1="479" y1="374.7" x2="479" y2="379.7" stroke="#1c1c1c" stroke-width="1.5" stroke-linecap="butt"/>
<line x1="479" y1="381.9" x2="479" y2="386.8" stroke="#1c1c1c" stroke-width="1.5" stroke-linecap="butt"/>
<line x1="479" y1="389.5" x2="479" y2="394.5" stroke="#1c1c1c" stroke-width="1.5" stroke-linecap="butt"/>
<line x1="475" y1="372.2" x2="475" y2="397" stroke="#1c1c1c" stroke-width="1.7" stroke-linecap="butt"/>
<line x1="490.7" y1="451.7" x2="509.1" y2="451.7" stroke="#1c1c1c" stroke-width="1.7" stroke-linecap="butt"/>
<line x1="493.9" y1="455.5" x2="505.9" y2="455.5" stroke="#1c1c1c" stroke-width="1.7" stroke-linecap="butt"/>
<line x1="496.6" y1="459.3" x2="503.2" y2="459.3" stroke="#1c1c1c" stroke-width="1.7" stroke-linecap="butt"/>
<text x="506.76" y="417.8" font-size="11.6" font-weight="normal" fill="#1a1a1a" textLength="15.32" lengthAdjust="spacingAndGlyphs" stroke="#1a1a1a" stroke-width="0.36">Q2</text>
<text x="506.16" y="429.2" font-size="11.6" font-weight="normal" fill="#2e2e2e" textLength="76.39" lengthAdjust="spacingAndGlyphs" stroke="#2e2e2e" stroke-width="0.05">ISL9V5036P3</text>
</svg>
</body></html>
